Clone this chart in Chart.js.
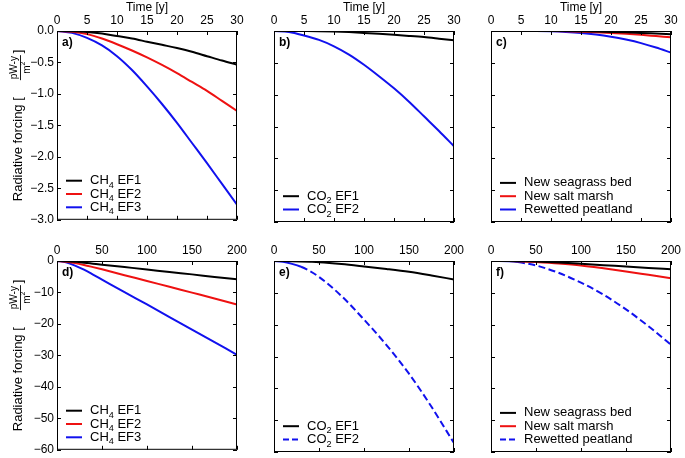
<!DOCTYPE html>
<html>
<head>
<meta charset="utf-8">
<script src="https://cdn.jsdelivr.net/npm/chart.js@4.4.1/dist/chart.umd.min.js"></script>
<style>
  body { margin: 0; background: #fff; width: 685px; height: 458px; overflow: hidden; position: relative; }
  canvas { position: absolute; }
</style>
</head>
<body>
<canvas id="pa" width="250" height="230" style="left:0px;top:0px"></canvas>
<canvas id="pb" width="250" height="230" style="left:217px;top:0px"></canvas>
<canvas id="pc" width="250" height="230" style="left:434px;top:0px"></canvas>
<canvas id="pd" width="250" height="230" style="left:0px;top:230px"></canvas>
<canvas id="pe" width="250" height="230" style="left:217px;top:230px"></canvas>
<canvas id="pf" width="250" height="230" style="left:434px;top:230px"></canvas>
<script>
const FONT = "'Liberation Sans', Arial, Helvetica, sans-serif";
Chart.defaults.font.family = FONT;
Chart.defaults.color = '#000';

// time (years)
const yearsShort = [0, 2.5, 5, 7.5, 10, 12.5, 15, 17.5, 20, 22.5, 25, 27.5, 30];
const yearsLong = [0, 10, 20, 30, 40, 50, 75, 100, 125, 150, 175, 200];

// tick values
const xTicksShort = [0, 5, 10, 15, 20, 25, 30];
const xTicksLong = [0, 50, 100, 150, 200];
const yTicksShort = [0, -0.5, -1, -1.5, -2, -2.5, -3];
const yTicksLong = [0, -10, -20, -30, -40, -50, -60];

// a) CH4, 30 y
const ch4EF1_30 = [0, -0.003, -0.015, -0.04, -0.08, -0.12, -0.17, -0.22, -0.27, -0.33, -0.40, -0.47, -0.535];
const ch4EF2_30 = [0, -0.012, -0.05, -0.12, -0.21, -0.31, -0.42, -0.54, -0.67, -0.81, -0.95, -1.11, -1.27];
const ch4EF3_30 = [0, -0.03, -0.11, -0.23, -0.40, -0.62, -0.88, -1.16, -1.46, -1.78, -2.10, -2.43, -2.76];
// b) CO2, 30 y
const co2EF1_30 = [0, 0, -0.001, -0.003, -0.008, -0.017, -0.03, -0.044, -0.06, -0.077, -0.096, -0.12, -0.145];
const co2EF2_30 = [0, -0.015, -0.07, -0.14, -0.24, -0.37, -0.53, -0.71, -0.9, -1.11, -1.34, -1.57, -1.81];
// c) ecosystems, 30 y
const seagrass_30 = [0, 0, 0, 0, 0, -0.001, -0.004, -0.008, -0.014, -0.021, -0.03, -0.04, -0.05];
const saltmarsh_30 = [0, 0, 0, 0, -0.001, -0.004, -0.01, -0.018, -0.03, -0.044, -0.06, -0.08, -0.1];
const peatland_30 = [0, 0, 0, 0, -0.004, -0.014, -0.03, -0.055, -0.09, -0.135, -0.19, -0.26, -0.34];
// d) CH4, 200 y
const ch4EF1_200 = [0, -0.08, -0.27, -0.54, -0.85, -1.16, -1.93, -2.7, -3.5, -4.25, -5.05, -5.8];
const ch4EF2_200 = [0, -0.21, -0.67, -1.27, -1.95, -2.65, -4.5, -6.35, -8.2, -10.05, -11.9, -13.8];
const ch4EF3_200 = [0, -0.40, -1.46, -2.76, -4.3, -5.9, -9.9, -13.8, -17.8, -21.8, -25.8, -29.8];
// e) CO2, 200 y
const co2EF1_200 = [0, -0.008, -0.06, -0.145, -0.25, -0.38, -0.95, -1.7, -2.5, -3.4, -4.55, -5.8];
const co2EF2_200 = [0, -0.24, -0.9, -1.81, -3.2, -5.0, -11.0, -18.4, -26.4, -35.4, -45.8, -57.2];
// f) ecosystems, 200 y
const seagrass_200 = [0, 0, -0.014, -0.05, -0.1, -0.18, -0.45, -0.85, -1.3, -1.75, -2.2, -2.6];
const saltmarsh_200 = [0, -0.001, -0.03, -0.1, -0.2, -0.35, -0.8, -1.4, -2.3, -3.3, -4.35, -5.4];
const peatland_200 = [0, -0.004, -0.09, -0.34, -0.8, -1.4, -3.7, -6.8, -10.6, -15.2, -20.5, -26.3];

const BLACK = '#000000', RED = '#ee1111', BLUE = '#1111ee';
const SUBS = { '\u2082': '2', '\u2084': '4' };

// text with subscript digits
function drawRich(ctx, text, x, y, size) {
  ctx.textBaseline = 'middle';
  ctx.textAlign = 'left';
  for (const ch of text) {
    if (SUBS[ch]) {
      ctx.font = (size * 0.7) + 'px ' + FONT;
      ctx.fillText(SUBS[ch], x, y + size * 0.35);
      x += ctx.measureText(SUBS[ch]).width;
    } else {
      ctx.font = size + 'px ' + FONT;
      ctx.fillText(ch, x, y);
      x += ctx.measureText(ch).width;
    }
  }
}

function drawYTitle(ctx, cy) {
  ctx.save();
  ctx.fillStyle = '#000';
  ctx.strokeStyle = '#000';
  ctx.font = '13px ' + FONT;
  const main = 'Radiative forcing [';
  const w1 = ctx.measureText(main).width;
  const wr = ctx.measureText(']').width;
  const barW = 25;
  const W = w1 + 17 + barW + 2 + wr;
  ctx.translate(0, cy);
  ctx.rotate(-Math.PI / 2);
  let u = -W / 2;
  ctx.textBaseline = 'alphabetic';
  ctx.textAlign = 'left';
  ctx.fillText(main, u, 21.5);
  u += w1 + 17;
  // fraction pW-y / m^2
  ctx.lineWidth = 0.9;
  ctx.beginPath();
  ctx.moveTo(u, 20.5);
  ctx.lineTo(u + barW, 20.5);
  ctx.stroke();
  ctx.font = '10px ' + FONT;
  ctx.textAlign = 'center';
  ctx.fillText('pW-y', u + barW / 2, 16.8);
  const wm = ctx.measureText('m').width;
  ctx.textAlign = 'left';
  ctx.fillText('m', u + barW / 2 - (wm + 4) / 2, 29.5);
  ctx.font = '7px ' + FONT;
  ctx.fillText('2', u + barW / 2 - (wm + 4) / 2 + wm, 25);
  u += barW + 2;
  ctx.font = '13px ' + FONT;
  ctx.fillText(']', u, 21.5);
  ctx.restore();
}

function decor(cfg) {
  return {
    id: 'decor',
    afterDraw(chart) {
      const ctx = chart.ctx;
      const a = chart.chartArea;
      const xs = chart.scales.x, ys = chart.scales.y;
      ctx.save();
      ctx.strokeStyle = '#000';
      ctx.lineWidth = 1;
      // frame
      ctx.strokeRect(a.left + 0.5, a.top + 0.5, a.right - a.left - 1, a.bottom - a.top - 1);
      // inward ticks on all sides
      ctx.beginPath();
      xs.ticks.forEach(t => {
        const px = Math.round(xs.getPixelForValue(t.value)) + 0.5;
        ctx.moveTo(px, a.top); ctx.lineTo(px, a.top + 4);
        ctx.moveTo(px, a.bottom); ctx.lineTo(px, a.bottom - 4);
      });
      ys.ticks.forEach(t => {
        const py = Math.round(ys.getPixelForValue(t.value)) + 0.5;
        ctx.moveTo(a.left, py); ctx.lineTo(a.left + 4, py);
        ctx.moveTo(a.right, py); ctx.lineTo(a.right - 4, py);
      });
      ctx.stroke();
      // panel letter
      ctx.fillStyle = '#000';
      ctx.font = 'bold 12px ' + FONT;
      ctx.textBaseline = 'middle';
      ctx.textAlign = 'left';
      ctx.fillText(cfg.letter, a.left + 5, a.top + 11.5);
      // legend, bottom left inside the plot
      const items = chart.data.datasets;
      const n = items.length;
      items.forEach((ds, i) => {
        const y = a.bottom - 12.5 - (n - 1 - i) * 13.3;
        ctx.strokeStyle = ds.borderColor;
        ctx.lineWidth = 2;
        ctx.setLineDash(ds.borderDash && ds.borderDash.length ? [6, 3] : []);
        ctx.beginPath();
        ctx.moveTo(a.left + 9, y);
        ctx.lineTo(a.left + 25, y);
        ctx.stroke();
        ctx.setLineDash([]);
        ctx.fillStyle = '#000';
        drawRich(ctx, ds.label, a.left + 33, y, 13);
      });
      if (cfg.yTitle) drawYTitle(ctx, (a.top + a.bottom) / 2);
      ctx.restore();
    }
  };
}

function makePanel(id, cfg) {
  const fmt = cfg.short
    ? v => (v === 0 ? '0.0' : v.toFixed(1).replace('-', '\u2212'))
    : v => String(Math.round(v)).replace('-', '\u2212');
  return new Chart(document.getElementById(id), {
    type: 'line',
    data: {
      datasets: cfg.series.map(s => ({
        label: s.label,
        data: cfg.xs.map((t, i) => ({ x: t, y: s.values[i] })),
        borderColor: s.color,
        borderWidth: 2,
        borderDash: s.dashed ? [7, 3.5] : [],
        segment: s.dashed ? { borderDash: c => (c.p0.parsed.x < 30 ? [] : undefined) } : {},
        pointRadius: 0,
        cubicInterpolationMode: 'monotone',
        fill: false
      }))
    },
    options: {
      responsive: false,
      animation: false,
      events: [],
      layout: { padding: { left: 0, top: 0, right: 13, bottom: 8 } },
      plugins: { legend: { display: false }, tooltip: { enabled: false } },
      scales: {
        x: {
          type: 'linear',
          position: 'top',
          min: 0,
          max: cfg.short ? 30 : 200,
          afterBuildTicks: s => { s.ticks = (cfg.short ? xTicksShort : xTicksLong).map(v => ({ value: v })); },
          afterFit: s => { s.height = 31; },
          grid: { display: false, drawTicks: false, tickLength: 0 },
          border: { display: false },
          ticks: { font: { size: 12 }, padding: 3, maxRotation: 0, autoSkip: false, color: '#000' },
          title: { display: cfg.short, text: 'Time [y]', font: { size: 12 }, padding: { top: 0, bottom: 0 }, color: '#000' }
        },
        y: {
          type: 'linear',
          min: cfg.short ? -3 : -60,
          max: 0,
          afterBuildTicks: s => { s.ticks = (cfg.short ? yTicksShort : yTicksLong).map(v => ({ value: v })); },
          afterFit: s => { s.width = 57; },
          grid: { display: false, drawTicks: false, tickLength: 0 },
          border: { display: false },
          ticks: { display: cfg.yTitle, font: { size: 12 }, padding: 3, color: '#000', callback: fmt }
        }
      }
    },
    plugins: [decor(cfg)]
  });
}

makePanel('pa', { letter: 'a)', short: true, yTitle: true, xs: yearsShort, series: [
  { label: 'CH\u2084 EF1', values: ch4EF1_30, color: BLACK },
  { label: 'CH\u2084 EF2', values: ch4EF2_30, color: RED },
  { label: 'CH\u2084 EF3', values: ch4EF3_30, color: BLUE }
]});
makePanel('pb', { letter: 'b)', short: true, yTitle: false, xs: yearsShort, series: [
  { label: 'CO\u2082 EF1', values: co2EF1_30, color: BLACK },
  { label: 'CO\u2082 EF2', values: co2EF2_30, color: BLUE }
]});
makePanel('pc', { letter: 'c)', short: true, yTitle: false, xs: yearsShort, series: [
  { label: 'New seagrass bed', values: seagrass_30, color: BLACK },
  { label: 'New salt marsh', values: saltmarsh_30, color: RED },
  { label: 'Rewetted peatland', values: peatland_30, color: BLUE }
]});
makePanel('pd', { letter: 'd)', short: false, yTitle: true, xs: yearsLong, series: [
  { label: 'CH\u2084 EF1', values: ch4EF1_200, color: BLACK },
  { label: 'CH\u2084 EF2', values: ch4EF2_200, color: RED },
  { label: 'CH\u2084 EF3', values: ch4EF3_200, color: BLUE }
]});
makePanel('pe', { letter: 'e)', short: false, yTitle: false, xs: yearsLong, series: [
  { label: 'CO\u2082 EF1', values: co2EF1_200, color: BLACK },
  { label: 'CO\u2082 EF2', values: co2EF2_200, color: BLUE, dashed: true }
]});
makePanel('pf', { letter: 'f)', short: false, yTitle: false, xs: yearsLong, series: [
  { label: 'New seagrass bed', values: seagrass_200, color: BLACK },
  { label: 'New salt marsh', values: saltmarsh_200, color: RED },
  { label: 'Rewetted peatland', values: peatland_200, color: BLUE, dashed: true }
]});
</script>
</body>
</html>
